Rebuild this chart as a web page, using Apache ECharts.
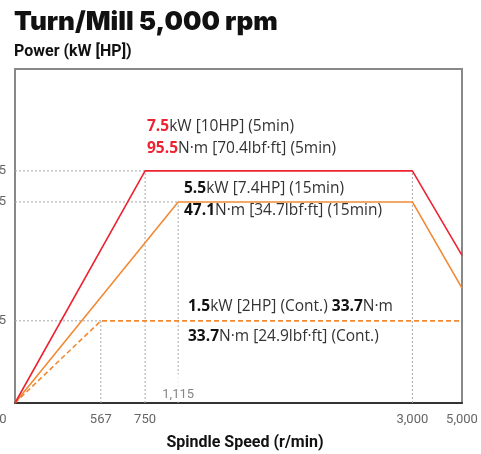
<!DOCTYPE html>
<html>
<head>
<meta charset="utf-8">
<script src="https://cdn.jsdelivr.net/npm/echarts@6/dist/echarts.min.js"></script>
<style>
  html, body { margin: 0; padding: 0; background: #fff; }
  #chart { width: 481px; height: 454px; }
</style>
</head>
<body>
<div id="chart"></div>
<script>
// speed axis is drawn schematic (not to scale): tick -> percent of axis length
const speedTicks = [0, 567, 750, 1115, 3000, 5000]
const speedTickPos = [0, 19.2, 29.1, 36.5, 88.9, 100]
const speedLabels = ['0', '567', '750', '', '3,000', '5,000']

// power axis, also schematic
const powerTicks = [0, 1.5, 5.5, 7.5]
const powerTickPos = [0, 24.6, 60.2, 69.5]
const powerLabels = ['', '1.5', '5.5', '7.5']

// curves
const shortSpeed = [0, 750, 3000, 5000]
const shortPower = [0, 7.5, 7.5, 3.7]
const s15Speed = [0, 1115, 3000, 5000]
const s15Power = [0, 5.5, 5.5, 2.6]
const contSpeed = [0, 567, 5000]
const contPower = [0, 1.5, 1.5]

const RED = '#ec2431'
const ORANGE = '#f28a34'
const FONT = 'Roboto'
const NOTE_FONT = 'Open Sans'

function toPos(v, ticks, pos) {
  for (var i = 1; i < ticks.length; i++) {
    if (v <= ticks[i] || i === ticks.length - 1) {
      const t = (v - ticks[i - 1]) / (ticks[i] - ticks[i - 1])
      return pos[i - 1] + t * (pos[i] - pos[i - 1])
    }
  }
  return 0
}
const xp = v => toPos(v, speedTicks, speedTickPos)
const yp = v => toPos(v, powerTicks, powerTickPos)

function curve(sp, pw) {
  return sp.map((s, i) => [xp(s), yp(pw[i])])
}

// dotted guide lines from the corner points
const guideCorners = [[567, 1.5], [750, 7.5], [1115, 5.5]]
const guides = []
guideCorners.forEach(c => {
  guides.push([[xp(0), yp(c[1])], [xp(c[0]), yp(c[1])]])
  guides.push([[xp(c[0]), yp(0)], [xp(c[0]), yp(c[1])]])
})
guides.push([[xp(3000), yp(0)], [xp(3000), yp(7.5)]])

const guideSeries = guides.map(g => ({
  type: 'line',
  data: g,
  symbol: 'none',
  silent: true,
  z: 1,
  lineStyle: { color: '#aaa', width: 1, type: [2, 2] }
}))

const chart = echarts.init(document.getElementById('chart'))

const rich = {
  r: { fontFamily: NOTE_FONT, fontSize: 15.5, fontWeight: 'bold', fill: RED },
  b: { fontFamily: NOTE_FONT, fontSize: 15.5, fontWeight: 'bold', fill: '#111' },
  n: { fontFamily: NOTE_FONT, fontSize: 15.5, fill: '#333' }
}
function note(x, y, text) {
  return {
    type: 'text',
    x: x,
    y: y,
    style: { text: text, rich: rich, verticalAlign: 'middle', align: 'left' },
    z: 10
  }
}

chart.setOption({
  animation: false,
  grid: {
    left: 15, top: 69, right: 19, bottom: 51,
    outerBoundsMode: 'none',
    containLabel: false,
    show: true, borderColor: '#888', borderWidth: 2
  },
  xAxis: {
    type: 'value',
    min: 0,
    max: 100,
    axisLine: { show: true, lineStyle: { color: '#333', width: 2 } },
    axisTick: { show: false },
    splitLine: { show: false },
    axisLabel: {
      customValues: speedTickPos,
      margin: 10,
      fontFamily: FONT,
      fontSize: 13,
      color: '#666',
      formatter: function(v) {
        const i = speedTickPos.indexOf(v)
        if (i === 0) return '{z|0}'
        return i >= 0 ? speedLabels[i] : ''
      },
      rich: { z: { fontFamily: FONT, fontSize: 13, color: '#666', padding: [0, 24, 0, 0] } }
    }
  },
  yAxis: {
    type: 'value',
    min: 0,
    max: 100,
    axisLine: { show: true, lineStyle: { color: '#888', width: 2 } },
    axisTick: { show: false },
    splitLine: { show: false },
    axisLabel: {
      customValues: powerTickPos.slice(1),
      margin: 9,
      fontFamily: FONT,
      fontSize: 13,
      color: '#666',
      formatter: function(v) {
        const i = powerTickPos.indexOf(v)
        return i >= 0 ? powerLabels[i] : ''
      }
    }
  },
  series: guideSeries.concat([
    {
      type: 'scatter',
      data: [[xp(1115), yp(0)]],
      symbolSize: 0,
      z: 2,
      label: {
        show: true,
        position: 'top',
        distance: 1,
        formatter: '1,115',
        fontFamily: FONT,
        fontSize: 13,
        color: '#666',
        backgroundColor: '#fff',
        padding: [14, 2, 1, 2]
      }
    },
    {
      name: 'Cont.',
      type: 'line',
      data: curve(contSpeed, contPower),
      symbol: 'none',
      z: 3,
      lineStyle: { color: ORANGE, width: 1.6, type: [5, 3] }
    },
    {
      name: '15min',
      type: 'line',
      data: curve(s15Speed, s15Power),
      symbol: 'none',
      z: 4,
      lineStyle: { color: ORANGE, width: 1.6 }
    },
    {
      name: '5min',
      type: 'line',
      data: curve(shortSpeed, shortPower),
      symbol: 'none',
      z: 5,
      lineStyle: { color: RED, width: 1.6 }
    }
  ]),
  graphic: [
    {
      type: 'text', x: 14, y: 22,
      style: {
        text: 'Turn/Mill 5,000 rpm', verticalAlign: 'middle',
        fontFamily: 'Inter', fontWeight: 900, fontSize: 26, fill: '#111'
      }
    },
    {
      type: 'text', x: 14, y: 52,
      style: {
        text: 'Power (kW [HP])', verticalAlign: 'middle',
        fontFamily: FONT, fontWeight: 'bold', fontSize: 16, fill: '#111'
      }
    },
    {
      type: 'text', x: 245, y: 443,
      style: {
        text: 'Spindle Speed (r/min)', verticalAlign: 'middle', align: 'center',
        fontFamily: FONT, fontWeight: 'bold', fontSize: 16, fill: '#111'
      }
    },
    note(147, 127, '{r|7.5}{n|kW [10HP] (5min)}'),
    note(147, 149, '{r|95.5}{n|N·m [70.4lbf·ft] (5min)}'),
    note(184, 189, '{b|5.5}{n|kW [7.4HP] (15min)}'),
    note(184, 211, '{b|47.1}{n|N·m [34.7lbf·ft] (15min)}'),
    note(188, 307, '{b|1.5}{n|kW [2HP] (Cont.) }{b|33.7}{n|N·m}'),
    note(188, 337, '{b|33.7}{n|N·m [24.9lbf·ft] (Cont.)}')
  ]
})
</script>
</body>
</html>
